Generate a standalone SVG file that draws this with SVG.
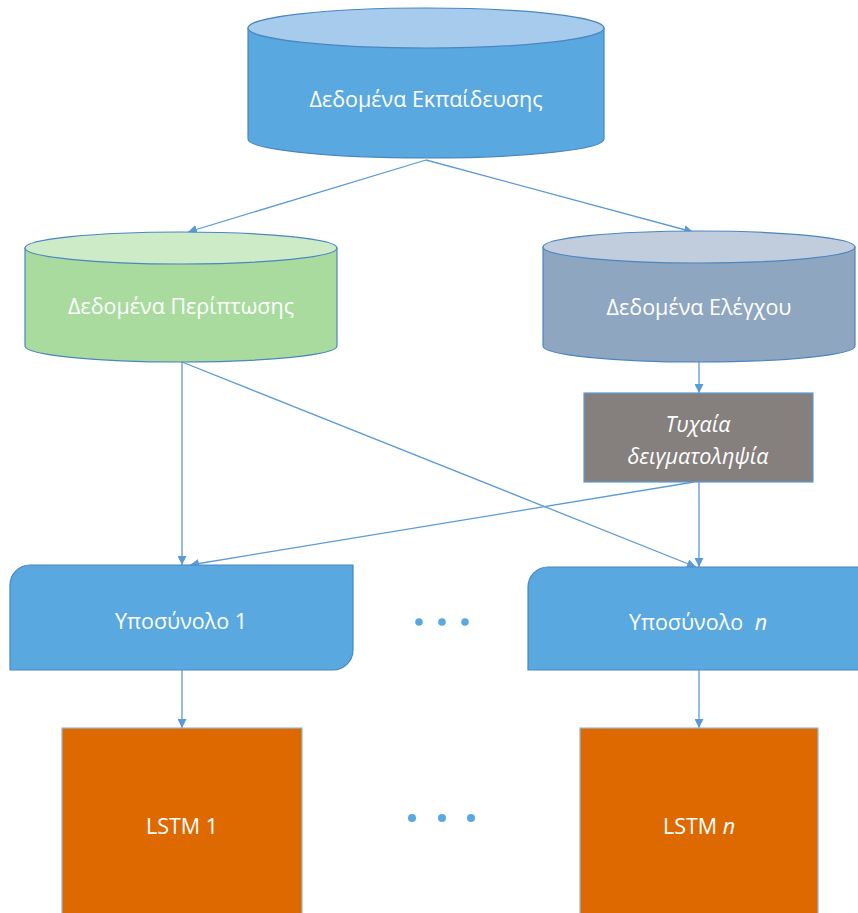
<svg xmlns="http://www.w3.org/2000/svg" width="858" height="913" viewBox="0 0 858 913">
  <style>
    .lbl { font-family: "Open Sans", "Noto Sans", "DejaVu Sans", sans-serif; font-size: 21.5px; font-weight: 500; fill: #ffffff; text-anchor: middle; }
    .it { font-style: italic; }
    .edge { stroke: #5b9bd5; stroke-width: 1.3; fill: none; marker-end: url(#arr); }
    .outline { stroke: #4a86c0; stroke-width: 1.2; }
  </style>
  <defs>
    <marker id="arr" viewBox="0 0 10 10" refX="10" refY="5" markerWidth="9" markerHeight="9" markerUnits="userSpaceOnUse" orient="auto">
      <path d="M0,0 L10,5 L0,10 Z" fill="#5b9bd5"/>
    </marker>
  </defs>

  <rect width="858" height="913" fill="#ffffff"/>

  <!-- connectors -->
  <g id="connectors">
    <line class="edge" x1="426" y1="160" x2="188" y2="232"/>
    <line class="edge" x1="426" y1="160" x2="693" y2="232"/>
    <line class="edge" x1="182" y1="362" x2="182" y2="565"/>
    <line class="edge" x1="182" y1="362" x2="696" y2="567"/>
    <line class="edge" x1="699" y1="362" x2="699" y2="393"/>
    <line class="edge" x1="699" y1="482" x2="699" y2="567"/>
    <line class="edge" x1="694" y1="482" x2="190" y2="565"/>
    <line class="edge" x1="182" y1="670" x2="182" y2="728"/>
    <line class="edge" x1="699" y1="670" x2="699" y2="728"/>
  </g>

  <!-- training data store -->
  <g id="training-data">
    <path class="outline" d="M248,28 V139 A178,19 0 0 0 604,139 V28 Z" fill="#5aa8e0"/>
    <ellipse class="outline" cx="426" cy="28" rx="178" ry="20" fill="#a6cbec"/>
    <text class="lbl" x="426" y="107">Δεδομένα Εκπαίδευσης</text>
  </g>

  <!-- case data store -->
  <g id="case-data">
    <path class="outline" d="M25,248 V346 A156,16 0 0 0 337,346 V248 Z" fill="#a9db9f"/>
    <ellipse class="outline" cx="181" cy="248" rx="156" ry="16" fill="#cdebc7"/>
    <text class="lbl" x="181" y="314">Δεδομένα Περίπτωσης</text>
  </g>

  <!-- control data store -->
  <g id="control-data">
    <path class="outline" d="M543,247 V346 A156,16 0 0 0 855,346 V247 Z" fill="#8fa6c1"/>
    <ellipse class="outline" cx="699" cy="247" rx="156" ry="16" fill="#c1cddd"/>
    <text class="lbl" x="699" y="315">Δεδομένα Ελέγχου</text>
  </g>

  <!-- random sampling step -->
  <g id="random-sampling">
    <rect x="584" y="393" width="229" height="89" fill="#857f7e" stroke="#5b9bd5" stroke-width="1.2"/>
    <text class="lbl it" x="698" y="432">Τυχαία</text>
    <text class="lbl it" x="698" y="464">δειγματοληψία</text>
  </g>

  <!-- subset 1 -->
  <g id="subset-1">
    <path class="outline" d="M30,565 H353 V650 A20,20 0 0 1 333,670 H10 V585 A20,20 0 0 1 30,565 Z" fill="#5aa8e0"/>
    <text class="lbl" x="181" y="629">Υποσύνολο 1</text>
  </g>

  <!-- subset n -->
  <g id="subset-n">
    <path class="outline" d="M548,567 H870 V670 H528 V587 A20,20 0 0 1 548,567 Z" fill="#5aa8e0"/>
    <text class="lbl" x="698" y="630">Υποσύνολο <tspan class="it" dx="6">n</tspan></text>
  </g>

  <!-- ellipsis between subsets -->
  <g id="subset-dots" fill="#5aa8e0">
    <circle cx="419" cy="622" r="3.8"/>
    <circle cx="442" cy="622" r="3.8"/>
    <circle cx="465" cy="622" r="3.8"/>
  </g>

  <!-- LSTM 1 -->
  <g id="lstm-1">
    <rect x="62" y="728" width="240" height="200" fill="#de6900" stroke="#8fb8dc" stroke-width="1.2"/>
    <text class="lbl" x="182" y="834">LSTM 1</text>
  </g>

  <!-- LSTM n -->
  <g id="lstm-n">
    <rect x="580" y="728" width="238" height="200" fill="#de6900" stroke="#8fb8dc" stroke-width="1.2"/>
    <text class="lbl" x="699" y="834">LSTM <tspan class="it">n</tspan></text>
  </g>

  <!-- ellipsis between models -->
  <g id="lstm-dots" fill="#5aa8e0">
    <circle cx="412" cy="818" r="4"/>
    <circle cx="442" cy="818" r="4"/>
    <circle cx="471" cy="818" r="4"/>
  </g>
</svg>
